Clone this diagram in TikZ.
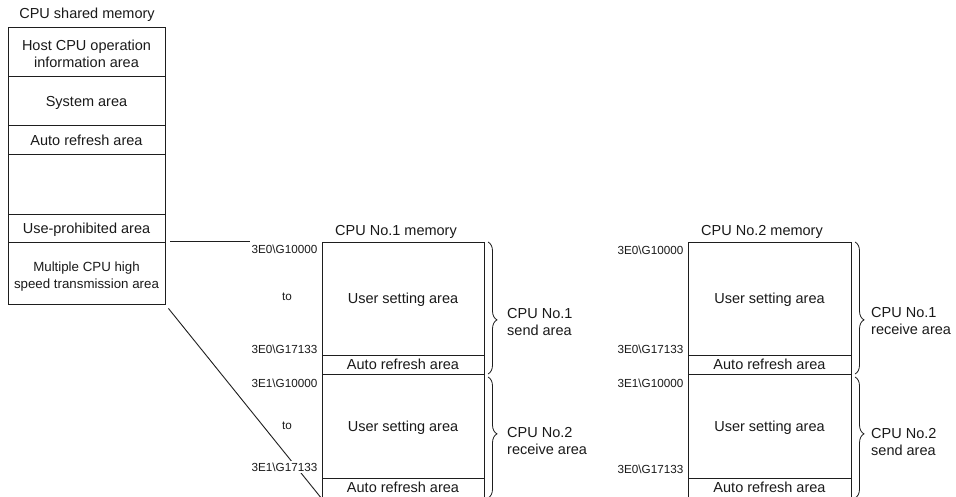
\documentclass[tikz,border=0pt]{standalone}
\usepackage{fontspec}
\usetikzlibrary{decorations.pathreplacing}
\newfontfamily\libsans{Liberation Sans}
\newcommand\mainfnt{\libsans\fontsize{14.5}{17}\selectfont}
\newcommand\midfnt{\libsans\fontsize{13.3}{16.5}\selectfont}
\newcommand\smallfnt{\libsans\fontsize{11.7}{14}\selectfont}
\definecolor{lc}{HTML}{1E1E1E}
\definecolor{tc}{HTML}{1A1A1A}
\tikzset{
  cell/.style={draw=lc, line width=0.9pt, inner sep=0pt},
  ctext/.style={inner sep=0pt, align=center, font=\mainfnt, text=tc},
  ttl/.style={font=\mainfnt, text=tc, inner sep=0pt},
  addr/.style={font=\smallfnt, text=tc, anchor=east, inner sep=1.5pt, fill=white},
  tolab/.style={font=\smallfnt, text=tc, inner sep=1pt},
  blab/.style={font=\mainfnt, text=tc, anchor=west, align=left, inner sep=0pt},
  conn/.style={draw=lc, line width=0.9pt},
  brc/.style={draw=lc, line width=0.8pt, decorate, decoration={brace, amplitude=9pt}}
}
\begin{document}
\begin{tikzpicture}[x=1pt,y=-1pt]
\useasboundingbox (0,0) rectangle (956,496);
\clip (0,0) rectangle (956,496);
\fill[white] (0,0) rectangle (956,496);

% CPU shared memory
\node[ttl] (tshared) at (87,15) {CPU shared memory};
\node[cell, minimum width=157pt, minimum height=49pt] (host) at (86.5,51.5) {};
\node[cell, minimum width=157pt, minimum height=49pt] (sys) at (86.5,100.5) {};
\node[cell, minimum width=157pt, minimum height=29pt] (sauto) at (86.5,139.5) {};
\node[cell, minimum width=157pt, minimum height=60pt] (blank) at (86.5,184) {};
\node[cell, minimum width=157pt, minimum height=28pt] (usep) at (86.5,228) {};
\node[cell, minimum width=157pt, minimum height=62pt] (mcpu) at (86.5,273) {};
\node[ctext] (host-t) at ([yshift=-2.5pt]host.center) {Host CPU operation\\information area};
\node[ctext] (sys-t) at ([yshift=-2pt]sys.center) {System area};
\node[ctext] (sauto-t) at ([yshift=-1pt]sauto.center) {Auto refresh area};
\node[ctext] (usep-t) at ([yshift=-2pt]usep.center) {Use-prohibited area};
\node[ctext, font=\midfnt] (mcpu-t) at ([yshift=-3.5pt]mcpu.center) {Multiple CPU high\\speed transmission area};

% CPU No.1 memory
\node[ttl] (t1) at (396,232) {CPU No.1 memory};
\node[cell, minimum width=162pt, minimum height=113pt] (u1a) at (403,298.5) {};
\node[cell, minimum width=162pt, minimum height=19pt] (r1a) at (403,364.5) {};
\node[cell, minimum width=162pt, minimum height=104pt] (u1b) at (403,426) {};
\node[cell, minimum width=162pt, minimum height=20pt] (r1b) at (403,488) {};
\node[ctext] (u1a-t) at ([yshift=-1.5pt]u1a.center) {User setting area};
\node[ctext] (r1a-t) at (r1a.center) {Auto refresh area};
\node[ctext] (u1b-t) at ([yshift=-1.5pt]u1b.center) {User setting area};
\node[ctext] (r1b-t) at ([yshift=0.5pt]r1b.center) {Auto refresh area};

% CPU No.2 memory
\node[ttl] (t2) at (762,232) {CPU No.2 memory};
\node[cell, minimum width=163pt, minimum height=113pt] (u2a) at (769.5,298.5) {};
\node[cell, minimum width=163pt, minimum height=19pt] (r2a) at (769.5,364.5) {};
\node[cell, minimum width=163pt, minimum height=104pt] (u2b) at (769.5,426) {};
\node[cell, minimum width=163pt, minimum height=20pt] (r2b) at (769.5,488) {};
\node[ctext] (u2a-t) at ([yshift=-1.5pt]u2a.center) {User setting area};
\node[ctext] (r2a-t) at (r2a.center) {Auto refresh area};
\node[ctext] (u2b-t) at ([yshift=-1.5pt]u2b.center) {User setting area};
\node[ctext] (r2b-t) at ([yshift=0.5pt]r2b.center) {Auto refresh area};

% address labels CPU No.1
\node[addr] (a1) at (319,249) {3E0\textbackslash G10000};
\node[tolab] (to1) at (287,297) {to};
\node[addr] (a2) at (319,349) {3E0\textbackslash G17133};
\node[addr] (a3) at (319,383) {3E1\textbackslash G10000};
\node[tolab] (to2) at (287,426) {to};

% connectors
\draw[conn] ([xshift=5pt]mcpu.north east) -- (a1.west |- mcpu.north east);
\draw[conn] ([shift={(3pt,-4pt)}]mcpu.south east) -- (r1b.south west);
\node[addr] (a4) at (319,467) {3E1\textbackslash G17133};

% address labels CPU No.2
\node[addr] (b1) at (685,250) {3E0\textbackslash G10000};
\node[addr] (b2) at (685,349) {3E0\textbackslash G17133};
\node[addr] (b3) at (685,383) {3E1\textbackslash G10000};
\node[addr] (b4) at (685,469) {3E0\textbackslash G17133};

% braces CPU No.1
\coordinate (br1t) at (488,242);
\coordinate (br1b) at (488,374);
\coordinate (br2t) at (488,377);
\coordinate (br2b) at (488,498);
\draw[brc, decoration={aspect=0.59}] (br1t) -- (br1b);
\draw[brc, decoration={aspect=0.47}] (br2t) -- (br2b);
\node[blab] (l1) at (507,322) {CPU No.1\\send area};
\node[blab] (l2) at (507,441.5) {CPU No.2\\receive area};

% braces CPU No.2
\coordinate (bq1t) at (855,242);
\coordinate (bq1b) at (855,374);
\coordinate (bq2t) at (855,377);
\coordinate (bq2b) at (855,498);
\draw[brc, decoration={aspect=0.59}] (bq1t) -- (bq1b);
\draw[brc, decoration={aspect=0.47}] (bq2t) -- (bq2b);
\node[blab] (l3) at (871,321) {CPU No.1\\receive area};
\node[blab] (l4) at (871,442) {CPU No.2\\send area};
\end{tikzpicture}
\end{document}
